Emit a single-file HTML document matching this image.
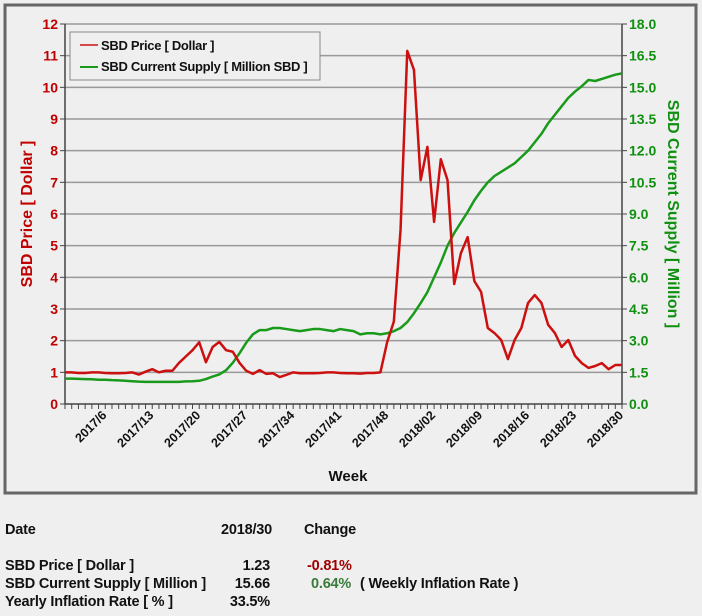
<!DOCTYPE html>
<html><head><meta charset="utf-8"><style>
body{margin:0;background:#efefef;width:702px;height:616px;overflow:hidden;font-family:"Liberation Sans",Arial,sans-serif}
svg{position:absolute;left:0;top:0}
.t{position:absolute;font-size:14.5px;font-weight:bold;color:#111;white-space:nowrap;font-family:"Liberation Sans",sans-serif;letter-spacing:-0.2px}
</style></head><body>
<svg id="chart" width="702" height="500"></svg>
<div class="t" style="left:5px;top:522px">Date</div>
<div class="t" style="left:212px;top:522px;width:60px;text-align:right">2018/30</div>
<div class="t" style="left:304px;top:522px">Change</div>
<div class="t" style="left:5px;top:558px">SBD Price [ Dollar ]</div>
<div class="t" style="left:212px;top:558px;width:58px;text-align:right">1.23</div>
<div class="t" style="left:307px;top:558px;color:#a00000">-0.81%</div>
<div class="t" style="left:5px;top:576px">SBD Current Supply [ Million ]</div>
<div class="t" style="left:212px;top:576px;width:58px;text-align:right">15.66</div>
<div class="t" style="left:311px;top:576px;color:#3a7a3a">0.64%</div>
<div class="t" style="left:360px;top:576px">( Weekly Inflation Rate )</div>
<div class="t" style="left:5px;top:594px">Yearly Inflation Rate [ % ]</div>
<div class="t" style="left:212px;top:594px;width:58px;text-align:right">33.5%</div>
<script>
const weekLabels=["2017/6","2017/13","2017/20","2017/27","2017/34","2017/41","2017/48","2018/02","2018/09","2018/16","2018/23","2018/30"];
const priceTicks=[0,1,2,3,4,5,6,7,8,9,10,11,12];
const supplyTicks=["0.0","1.5","3.0","4.5","6.0","7.5","9.0","10.5","12.0","13.5","15.0","16.5","18.0"];
const price=[1.0,1.0,0.98,0.98,1.0,1.0,0.98,0.97,0.97,0.98,1.0,0.93,1.02,1.1,1.0,1.05,1.05,1.3,1.5,1.7,1.95,1.32,1.8,1.96,1.7,1.65,1.3,1.05,0.95,1.07,0.95,0.97,0.85,0.92,1.0,0.97,0.97,0.97,0.98,1.0,1.0,0.98,0.97,0.97,0.96,0.98,0.98,1.0,1.95,2.6,5.5,11.15,10.55,7.07,8.12,5.75,7.73,7.07,3.79,4.77,5.27,3.88,3.54,2.4,2.24,2.02,1.42,2.02,2.4,3.19,3.44,3.19,2.5,2.24,1.8,2.02,1.52,1.29,1.14,1.2,1.29,1.1,1.23,1.23];
const supply=[1.2,1.2,1.19,1.18,1.17,1.15,1.15,1.13,1.12,1.1,1.08,1.06,1.05,1.05,1.05,1.05,1.05,1.05,1.07,1.08,1.1,1.18,1.3,1.4,1.6,1.95,2.4,2.9,3.3,3.5,3.5,3.6,3.6,3.55,3.5,3.45,3.5,3.55,3.55,3.5,3.45,3.55,3.5,3.45,3.3,3.35,3.35,3.3,3.35,3.45,3.6,3.88,4.3,4.78,5.3,6.0,6.7,7.5,8.1,8.6,9.1,9.65,10.1,10.5,10.8,11.0,11.2,11.4,11.7,12.0,12.4,12.8,13.3,13.7,14.1,14.5,14.8,15.05,15.35,15.3,15.4,15.5,15.6,15.66];
const labelIdx=[6,13,20,27,34,41,48,55,62,69,76,83];
const X0=65,X1=622,Y0=404,Y1=24,N=83;
const xs=i=>X0+(X1-X0)*i/N;
const yL=v=>Y0-(Y0-Y1)*v/12;
const yR=v=>Y0-(Y0-Y1)*v/18;
const svg=document.getElementById('chart');
const NS='http://www.w3.org/2000/svg';
function mk(tag,a,txt){const e=document.createElementNS(NS,tag);for(const k in a)e.setAttribute(k,a[k]);if(txt!==undefined)e.textContent=txt;svg.appendChild(e);return e;}
let e=mk('rect',{x:5,y:5,width:691,height:488,fill:'#efefef',stroke:'#666',"stroke-width":3});

priceTicks.forEach(v=>{
 if(v>0){e=mk('line',{x1:X0,x2:X1,y1:yL(v),y2:yL(v),stroke:'#999',"stroke-width":1.5});
 }
 e=mk('line',{x1:X0-5,x2:X0,y1:yL(v),y2:yL(v),stroke:'#444'});
 e=mk('text',{x:X0-7,y:yL(v)+5,"text-anchor":'end',fill:'#c00000',"font-size":14,"font-weight":'bold',"font-family":'Liberation Sans, sans-serif'},v);
 
});
supplyTicks.forEach((s,k)=>{
 const y=Y0-(Y0-Y1)*k/12;
 mk('line',{x1:X1,x2:X1+5,y1:y,y2:y,stroke:'#444'});
 e=mk('text',{x:X1+7,y:y+5,fill:'#109010',"font-size":14,"font-weight":'bold',"font-family":'Liberation Sans, sans-serif'},s);
 
});
mk('line',{x1:X0,x2:X0,y1:Y1,y2:Y0,stroke:'#444',"stroke-width":1.5});
mk('line',{x1:X1,x2:X1,y1:Y1,y2:Y0,stroke:'#444',"stroke-width":1.5});
mk('line',{x1:X0,x2:X1,y1:Y0,y2:Y0,stroke:'#444',"stroke-width":1.5});
for(let i=0;i<=N;i++)mk('line',{x1:xs(i),x2:xs(i),y1:Y0,y2:Y0+5,stroke:'#444'});
weekLabels.forEach((l,k)=>{
 const x=xs(labelIdx[k])+2,y=Y0+12;
 e=mk('text',{x:x,y:y,"text-anchor":'end',transform:`rotate(-45 ${x} ${y})`,"font-size":12.5,"font-weight":'bold',fill:'#111',"font-family":'Liberation Sans, sans-serif'},l);
 
});
e=mk('text',{x:348,y:481,"text-anchor":'middle',"font-size":15,"font-weight":'bold',fill:'#111'},'Week');

e=mk('text',{x:32,y:214,"text-anchor":'middle',transform:'rotate(-90 32 214)',"font-size":16,"font-weight":'bold',fill:'#c00000'},'SBD Price [ Dollar ]');

e=mk('text',{x:668,y:214,"text-anchor":'middle',transform:'rotate(90 668 214)',"font-size":16,"font-weight":'bold',fill:'#109010'},'SBD Current Supply [ Million ]');

e=mk('polyline',{points:supply.map((v,i)=>xs(i)+','+yR(v)).join(' '),fill:'none',stroke:'#1a9a1a',"stroke-width":2.5,"stroke-linejoin":'round'});

e=mk('polyline',{points:price.map((v,i)=>xs(i)+','+yL(v)).join(' '),fill:'none',stroke:'#cc1010',"stroke-width":2.5,"stroke-linejoin":'round'});

e=mk('rect',{x:70,y:32,width:250,height:48,fill:'#efefef',stroke:'#888',"stroke-width":1});

mk('line',{x1:80,x2:98,y1:45,y2:45,stroke:'#cc1010',"stroke-width":1.5});
e=mk('text',{x:101,y:50,"font-size":13,"font-weight":'bold',fill:'#111',"font-family":'Liberation Sans, sans-serif',"letter-spacing":'-0.3'},'SBD Price [ Dollar ]');

mk('line',{x1:80,x2:98,y1:67,y2:67,stroke:'#1a9a1a',"stroke-width":2});
e=mk('text',{x:101,y:71,"font-size":13,"font-weight":'bold',fill:'#111',"font-family":'Liberation Sans, sans-serif',"letter-spacing":'-0.3'},'SBD Current Supply [ Million SBD ]');

</script>
</body></html>
